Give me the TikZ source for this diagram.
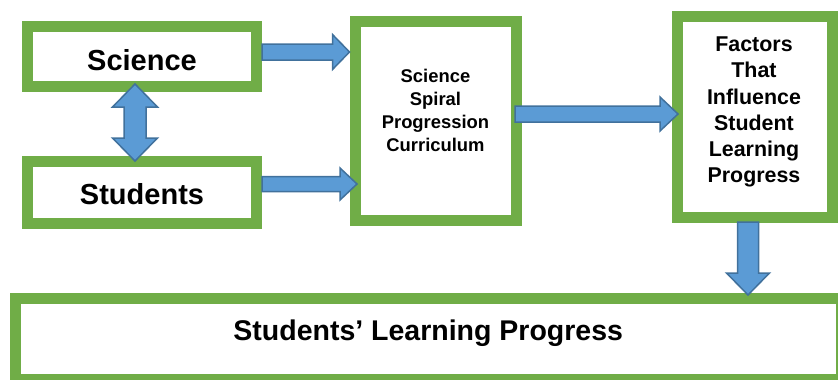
\documentclass[tikz,border=0pt]{standalone}
\usepackage{fontspec}
\setmainfont{Liberation Sans}
\usetikzlibrary{calc}
\definecolor{boxgreen}{HTML}{70AD47}
\definecolor{arrowblue}{HTML}{5B9BD5}
\definecolor{arrowedge}{HTML}{41719C}

\begin{document}
\begin{tikzpicture}[x=1pt,y=-1pt,
  greenbox/.style={draw=boxgreen,line width=11pt,fill=white,inner sep=0pt},
  blockarrow/.style={draw=arrowedge,fill=arrowblue,line width=1.5pt,line join=miter}]
  \useasboundingbox (0,0) rectangle (838,380);
  \clip (0,0) rectangle (838,380);

  \node[greenbox,minimum width=229pt,minimum height=60pt,
    text height=28pt,text depth=0pt,font=\fontsize{29}{35}\selectfont\bfseries]
    (sci) at (142,56) {Science};
  \node[greenbox,minimum width=229pt,minimum height=62pt,
    text height=24pt,text depth=0pt,font=\fontsize{29}{35}\selectfont\bfseries]
    (stu) at (142,192) {Students};
  \node[greenbox,minimum width=161pt,minimum height=198.5pt] (cur) at (435.5,120.75) {};
  \node[greenbox,minimum width=155pt,minimum height=201.5pt] (fac) at (754.5,116.75) {};
  \node[greenbox,minimum width=826.5pt,minimum height=80.5pt,
    text height=2.5pt,text depth=0pt,font=\fontsize{28.5}{34}\selectfont\bfseries]
    (bot) at (428.25,338.75) {Students’ Learning Progress};

  \node[anchor=north,inner sep=0pt,align=center,font=\fontsize{18.4}{23}\selectfont\bfseries]
    (curtext) at (435.5,68.5) {Science\\Spiral\\Progression\\Curriculum};
  \node[anchor=north,inner sep=0pt,align=center,font=\fontsize{21.4}{26.2}\selectfont\bfseries]
    (factext) at (754,36.7) {Factors\\That\\Influence\\Student\\Learning\\Progress};

  \draw[blockarrow] let \p1=($(sci.east)+(0,-4)$), \p2=(cur.west) in
    (\x1,{\y1+8pt}) -- ({\x2-17pt},{\y1+8pt}) -- ({\x2-17pt},{\y1+17.5pt})
    -- (\x2,\y1) -- ({\x2-17pt},{\y1-17.5pt}) -- ({\x2-17pt},{\y1-8pt})
    -- (\x1,{\y1-8pt}) -- cycle;
  \draw[blockarrow] let \p1=($(stu.east)+(0,-8)$), \p2=($(cur.west)+(7.5,0)$) in
    (\x1,{\y1+7.5pt}) -- ({\x2-17pt},{\y1+7.5pt}) -- ({\x2-17pt},{\y1+16pt})
    -- (\x2,\y1) -- ({\x2-17pt},{\y1-16pt}) -- ({\x2-17pt},{\y1-7.5pt})
    -- (\x1,{\y1-7.5pt}) -- cycle;
  \draw[blockarrow] let \p1=($(cur.east)+(-6.5,-6.75)$), \p2=($(fac.west)+(6.5,0)$) in
    (\x1,{\y1+8pt}) -- ({\x2-18pt},{\y1+8pt}) -- ({\x2-18pt},{\y1+17pt})
    -- (\x2,\y1) -- ({\x2-18pt},{\y1-17pt}) -- ({\x2-18pt},{\y1-8pt})
    -- (\x1,{\y1-8pt}) -- cycle;
  \draw[blockarrow] let \p1=($(fac.south)+(-6.5,-1)$), \p2=($(bot.north)+(0,2)$) in
    ({\x1-10.5pt},\y1) -- ({\x1-10.5pt},{\y2+22pt}) -- ({\x1-21.5pt},{\y2+22pt})
    -- (\x1,\y2) -- ({\x1+21.5pt},{\y2+22pt}) -- ({\x1+10.5pt},{\y2+22pt})
    -- ({\x1+10.5pt},\y1) -- cycle;
  \draw[blockarrow] let \p1=($(sci.south)+(-7,-7.5)$), \p2=($(stu.north)+(-7,5.5)$) in
    (\x1,\y1) -- ({\x1+22.5pt},{\y1-23pt}) -- ({\x1+11pt},{\y1-23pt})
    -- ({\x1+11pt},{\y2+23pt}) -- ({\x1+22.5pt},{\y2+23pt}) -- (\x1,\y2)
    -- ({\x1-22.5pt},{\y2+23pt}) -- ({\x1-11pt},{\y2+23pt})
    -- ({\x1-11pt},{\y1-23pt}) -- ({\x1-22.5pt},{\y1-23pt}) -- cycle;
\end{tikzpicture}
\end{document}
